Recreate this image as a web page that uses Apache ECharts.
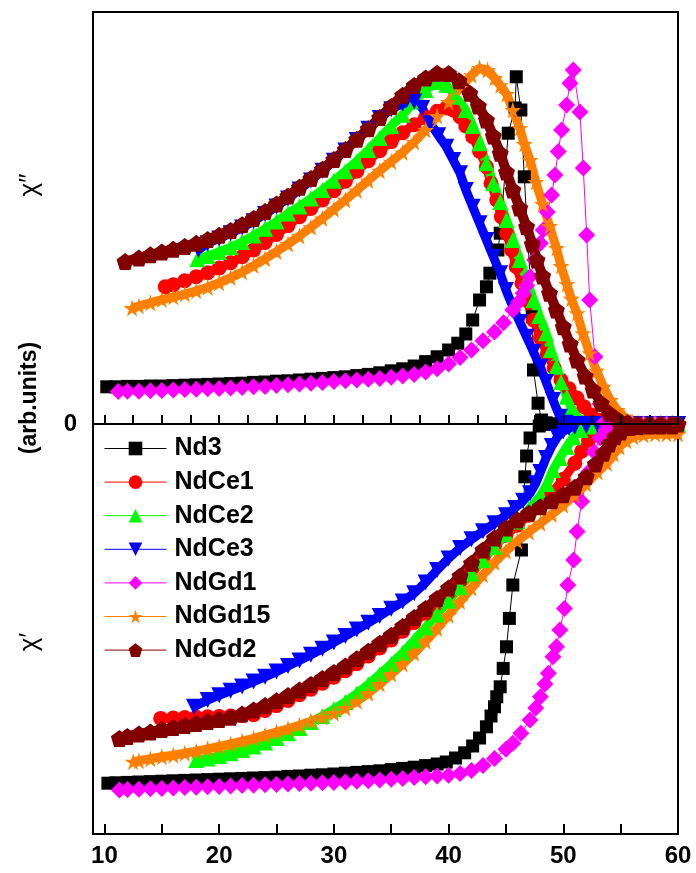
<!DOCTYPE html>
<html>
<head>
<meta charset="utf-8">
<title>chi ac susceptibility</title>
<script src="https://cdn.jsdelivr.net/npm/echarts@6/dist/echarts.min.js"></script>
<style>
    html, body { margin: 0; padding: 0; background: #fff; }
    #chart { width: 696px; height: 873px; }
</style>
</head>
<body>
<div id="chart"></div>
<script>
// temperature axis: frame runs from 9 K, ticks and labels start at 10 K
const tMin = 9
const tMax = 60
const tickStart = 10
const topTickStep = 5
const bottomTickStep = 10
const xLabelValues = [10, 20, 30, 40, 50, 60]
const topTickValues = [10, 12.5, 15, 17.5, 20, 22.5, 25, 27.5, 30, 32.5, 35, 37.5, 40, 42.5, 45, 47.5, 50, 52.5, 55, 57.5]
const bottomTickValues = [10, 15, 20, 25, 30, 35, 40, 45, 50, 55]

// chi'' (upper panel), [T, value]
const nd3Chi2 = [[10.2,9.3],[11,9.3],[12,9.4],[13,9.4],[14,9.5],[15,9.5],[16,9.6],[17,9.7],[18,9.8],[19,9.9],[20,10],[21,10.1],[22,10.2],[23,10.4],[24,10.5],[25,10.7],[26,10.8],[27,11],[28,11.2],[29,11.4],[30,11.6],[31,11.8],[32,12.1],[33,12.4],[34,12.8],[35,13.3],[36,13.8],[37,14.5],[38,15.6],[39,16.8],[40,18.5],[40.8,20.2],[41.5,22.5],[42.1,26],[42.7,31],[43.3,34.3],[43.6,37.7],[44.3,43.5],[44.5,47.7],[45.2,72.7],[45.8,79],[45.9,86.8],[46.3,78.5],[46.6,61.8],[47.3,26.8],[47.4,13.5],[47.8,5.2],[48.1,1],[48.5,0.3],[49.5,0],[50.5,0],[51.5,0],[52.5,0],[53.5,0],[54.5,0],[55.5,0],[56.5,0],[57.5,0],[58.5,0],[59.5,0]]
const ndCe1Chi2 = [[15.3,34.3],[16,34.8],[17,35.8],[18,36.8],[19,37.8],[20,39],[21,40.3],[22,41.8],[23,43.5],[24,45.4],[25,47.4],[26,49.6],[27,51.8],[28,53.9],[29,56],[30,58.3],[31,60.7],[32,63.2],[33,65.8],[34,68.3],[35,70.6],[36,72.8],[37,74.8],[38,76.6],[39,78.2],[39.8,79],[40.4,78.5],[41,76.8],[41.5,74.5],[42.1,71.8],[42.7,68.2],[43.3,64.3],[43.7,60.2],[44.2,56],[44.6,51.8],[45.05,47.7],[45.5,43.5],[45.9,39.3],[46.4,35.2],[46.8,31],[47.4,26],[48,21.5],[48.6,17.5],[49.2,14],[49.8,11],[50.5,8.8],[51.2,6.5],[51.8,4.3],[52.4,2.3],[53,1],[53.6,0.3],[54.5,0],[55.5,0],[56.5,0],[57.5,0],[58.5,0],[59.5,0]]
const ndCe2Chi2 = [[18.1,41.2],[19,42],[20,43],[21,44.2],[22,45.5],[23,47.1],[24,48.8],[25,50.6],[26,52.6],[27,54.4],[28,56.4],[29,58.5],[30,60.8],[31,63.2],[32,65.7],[33,68.5],[34,71.5],[35,74.5],[36,77.3],[37,80.6],[38,83.5],[39,85.5],[39.8,84.8],[40.6,81.8],[41.5,78.5],[42.1,74.5],[42.7,70.2],[43.3,65.2],[43.9,60.2],[44.5,55.5],[45.05,51],[45.6,46],[46.2,41],[46.8,36],[47.4,31],[47.9,27],[48.5,22.7],[48.9,18.5],[49.4,14.3],[49.8,10.5],[50.3,6.8],[50.7,4],[51.2,1.8],[51.7,0.5],[52.5,0],[53.5,0],[54.5,0],[55.5,0],[56.5,0],[57.5,0],[58.5,0],[59.5,0]]
const ndCe3Chi2 = [[18.2,43.5],[19,45.2],[20,46.4],[21,47.7],[22,49.1],[23,50.7],[24,52.5],[25,54.4],[26,56.4],[27,58.6],[28,60.9],[29,63.3],[30,65.8],[31,68.4],[32,71],[33,73.8],[34,76.5],[35,78.7],[36,80.1],[37,80.6],[37.7,79],[38.4,75.2],[39.1,72.2],[39.8,69.3],[40.4,66],[41,62.7],[41.5,58.5],[42.1,54.3],[42.7,50.2],[43.3,46],[43.9,41.8],[44.5,37.7],[45,33.5],[45.6,29.3],[46.2,25.5],[46.8,21.8],[47.4,18],[48,14.3],[48.5,10.5],[49.1,6],[49.7,1.8],[50.2,0.3],[51,0],[52,0],[53,0],[54,0],[55,0],[56,0],[57,0],[58,0],[59,0],[60,0]]
const ndGd1Chi2 = [[11.2,8.1],[12,8.2],[13,8.2],[14,8.3],[15,8.4],[16,8.5],[17,8.6],[18,8.7],[19,8.8],[20,8.9],[21,9],[22,9.1],[23,9.3],[24,9.4],[25,9.6],[26,9.8],[27,10],[28,10.2],[29,10.4],[30,10.6],[31,10.8],[32,11],[33,11.2],[34,11.4],[35,11.7],[36,12],[37,12.4],[38,13],[39,13.8],[40,15],[41,16.6],[42,18.5],[43,20.8],[44,23],[44.8,25.3],[45.6,28.5],[46.1,30.5],[46.5,32.7],[46.8,34.6],[47.1,36.8],[47.5,41],[48,45.2],[48.25,48.5],[48.6,53],[48.98,57.25],[49.27,62.25],[49.56,68.1],[49.85,73.5],[50.29,79.75],[50.58,85.2],[50.87,88.5],[51.45,78],[51.74,64],[52.04,47.25],[52.3,31],[52.76,16.8],[53.2,5],[53.6,0.5],[54,0],[55,0],[56,0],[57,0],[58,0],[59,0],[60,0]]
const ndGd15Chi2 = [[12.4,29],[13,29.5],[14,30.3],[15,31.1],[16,31.8],[17,32.5],[18,33.3],[19,34.2],[20,35.3],[21,36.6],[22,38],[23,39.6],[24,41.3],[25,43.1],[26,45],[27,47],[28,49.2],[29,51.4],[30,53.7],[31,56],[32,58.4],[33,60.9],[34,63.3],[35,65.6],[36,67.9],[37,70.5],[38,73.5],[39,77],[40,80.5],[41,84],[42,87.2],[42.7,89],[43.4,88.5],[44,86.5],[44.5,84.7],[45.05,82.5],[45.6,78.5],[46.2,74],[46.6,70],[47.1,66],[47.6,60.5],[48.2,55],[48.8,49.5],[49.4,44],[49.8,39.5],[50.3,35],[50.7,31.3],[51.2,27.7],[51.7,22.7],[52.3,17.7],[52.9,13.3],[53.5,9.3],[54.1,6],[54.7,3.5],[55.3,1.8],[56,0.6],[57,0],[58,0],[59,0],[60,0]]
const ndGd2Chi2 = [[11.8,40.6],[13,41.5],[14,42.3],[15,43],[16,43.7],[17,44.4],[18,45.2],[19,46.1],[20,47.2],[21,48.4],[22,49.8],[23,51.4],[24,53.1],[25,55],[26,57],[27,59.2],[28,61.4],[29,63.7],[30,66.1],[31,68.6],[32,71.2],[33,73.8],[34,76.6],[35,79.4],[36,82.2],[37,84.6],[38,86.5],[39,87.7],[40,87.6],[40.9,85.8],[41.85,82.7],[42.6,79.5],[43.3,76],[43.9,72],[44.5,67.7],[45.05,63],[45.6,58.5],[46.2,54],[46.8,49.3],[47.3,45],[47.7,41],[48.2,37],[48.8,32.7],[49.4,28.5],[50,24.3],[50.6,20],[51.2,16],[51.9,12],[52.6,8.5],[53.3,5.2],[54,2.7],[54.8,1],[55.6,0.3],[56.5,0],[57.5,0],[58.5,0],[59.5,0],[60,0]]

// chi' (lower panel), [T, value]
const nd3Chi1 = [[10.3,-89.8],[11,-89.7],[12,-89.6],[13,-89.5],[14,-89.4],[15,-89.3],[16,-89.2],[17,-89.1],[18,-89],[19,-88.9],[20,-88.8],[21,-88.7],[22,-88.6],[23,-88.5],[24,-88.4],[25,-88.3],[26,-88.1],[27,-88],[28,-87.8],[29,-87.7],[30,-87.5],[31,-87.3],[32,-87.1],[33,-86.9],[34,-86.7],[35,-86.4],[36,-86.1],[37,-85.8],[38,-85.4],[39,-85],[39.8,-84.5],[40.6,-83.5],[41.4,-82.2],[42.1,-80.5],[42.7,-78.5],[43.3,-75.7],[43.7,-73],[44,-70.7],[44.2,-68.2],[44.5,-65.7],[44.76,-61.1],[45.05,-55.7],[45.3,-48.6],[45.6,-40.25],[46.35,-31.5],[46.65,-13.2],[46.8,-8],[47.1,-3.5],[47.9,-0.5],[48.5,-0.1],[49.5,0],[50.5,0],[51.5,0],[52.5,0],[53.5,0],[54.5,0],[55.5,0],[56.5,0],[57.5,0],[58.5,0],[59.5,0]]
const ndCe1Chi1 = [[14.9,-73.6],[16,-73.5],[17,-73.4],[18,-73.3],[19,-73.2],[20,-73.1],[21,-73],[22,-72.9],[23,-72.7],[24,-71.6],[25,-70.4],[26,-69.1],[27,-67.7],[28,-66.3],[29,-64.8],[30,-63.3],[31,-61.7],[32,-59.9],[33,-58],[34,-56],[35,-54],[36,-51.8],[37,-49.6],[38,-47.3],[39,-44.8],[40,-42.2],[41,-39.3],[42,-36.3],[43,-33.3],[44,-30.5],[45,-27.8],[46,-25.3],[47,-22.8],[48,-20.2],[49,-17.2],[50,-13.8],[51,-9.8],[51.6,-6.8],[52.2,-4],[52.8,-2],[53.5,-0.8],[54.5,-0.3],[55.5,0],[56.5,0],[57.5,0],[58.5,0],[59.5,0]]
const ndCe2Chi1 = [[18,-84],[19,-83.6],[20,-83],[21,-82.3],[22,-81.5],[23,-80.6],[24,-79.6],[25,-78.5],[26,-77.3],[27,-76],[28,-74.5],[29,-73],[30,-71.3],[31,-69.5],[32,-67.4],[33,-65.1],[34,-62.6],[35,-60],[36,-57.2],[37,-54.1],[38,-50.9],[39,-47.6],[40,-44.2],[41,-40.8],[42,-37.4],[43,-34],[44,-30.7],[45,-27.5],[46,-24.4],[47,-21.3],[48,-18],[48.6,-15],[49.1,-11.5],[49.7,-8.5],[50.3,-5.7],[50.9,-3.3],[51.5,-1.5],[52.2,-0.6],[53,-0.2],[54,0],[55,0],[56,0],[57,0],[58,0],[59,0],[60,0]]
const ndCe3Chi1 = [[17.8,-70.7],[19,-69],[20,-67.8],[21,-66.7],[22,-65.6],[23,-64.4],[24,-63.2],[25,-61.9],[26,-60.5],[27,-59.1],[28,-57.7],[29,-56.2],[30,-54.6],[31,-53],[32,-51.4],[33,-49.7],[34,-48],[35,-46.2],[36,-44.4],[37,-42.3],[38,-39.6],[39,-36.5],[40,-33.6],[41,-31],[42,-28.8],[43,-26.8],[44,-24.8],[45,-22.8],[45.8,-21],[46.5,-19.2],[47.1,-17.3],[47.6,-14.8],[48,-12],[48.5,-8.5],[49,-5.5],[49.5,-3.2],[50,-1.8],[50.5,-1],[51,-0.7],[52,-0.5],[53,-0.3],[54,-0.2],[55,0],[56,0],[57,0],[58,0],[59,0],[60,0]]
const ndGd1Chi1 = [[11.3,-91.5],[12,-91.4],[13,-91.3],[14,-91.2],[15,-91.1],[16,-91],[17,-90.9],[18,-90.8],[19,-90.7],[20,-90.6],[21,-90.5],[22,-90.4],[23,-90.3],[24,-90.2],[25,-90.1],[26,-90],[27,-89.9],[28,-89.8],[29,-89.7],[30,-89.6],[31,-89.5],[32,-89.3],[33,-89.2],[34,-89],[35,-88.8],[36,-88.6],[37,-88.4],[38,-88.2],[39,-88],[40,-87.8],[41,-87.4],[42,-86.6],[43,-85.4],[44,-83.6],[45,-81.3],[45.6,-79.8],[46.3,-77.3],[47.1,-74],[47.6,-71],[48,-68.2],[48.4,-65],[48.7,-62.3],[49.1,-58.2],[49.4,-55.7],[49.7,-51.5],[50.1,-46.1],[50.4,-40.25],[50.9,-34],[51.2,-26.9],[51.6,-19.4],[52.2,-12],[52.7,-7],[53.2,-3.5],[53.7,-1.5],[54.5,-0.5],[55.5,0],[56.5,0],[57.5,0],[58.5,0],[59.5,0]]
const ndGd15Chi1 = [[12.5,-84.4],[13,-84.2],[14,-83.7],[15,-83.2],[16,-82.8],[17,-82.3],[18,-81.8],[19,-81.2],[20,-80.6],[21,-80],[22,-79.3],[23,-78.6],[24,-77.8],[25,-77],[26,-76.2],[27,-75.3],[28,-74.3],[29,-73.3],[30,-72.3],[31,-71],[32,-69.3],[33,-67.3],[34,-65],[35,-62.5],[36,-60],[37,-57.3],[38,-54.3],[39,-51.1],[40,-47.8],[41,-44.4],[42,-41],[43,-37.7],[44,-34.6],[45,-31.8],[46,-29.3],[47,-27],[48,-24.8],[49,-22.6],[50,-20.3],[51,-17.8],[52,-15],[53,-12],[53.8,-9.8],[54.4,-7.5],[54.9,-5.7],[55.5,-4.2],[56.1,-3.2],[57,-2.7],[58,-2.5],[59,-2.5],[60,-2.5]]
const ndGd2Chi1 = [[11.3,-78.6],[12,-78.1],[13,-77.5],[14,-77],[15,-76.4],[16,-75.9],[17,-75.4],[18,-74.9],[19,-74.4],[20,-73.9],[21,-73.3],[22,-72.5],[23,-71.5],[24,-70.4],[25,-69.2],[26,-67.9],[27,-66.5],[28,-65.1],[29,-63.6],[30,-62.1],[31,-60.5],[32,-58.7],[33,-56.8],[34,-54.8],[35,-52.8],[36,-50.6],[37,-48.4],[38,-46.1],[39,-43.6],[40,-41],[41,-38],[42,-34.8],[43,-31.5],[44,-28.5],[45,-26],[46,-24],[47,-22.3],[48,-20.7],[49,-19.2],[50,-17.7],[51,-15.8],[52,-13.2],[52.8,-10],[53.5,-7.3],[54,-5],[54.5,-3.2],[55,-2],[55.8,-0.9],[56.5,-0.6],[57.5,-0.5],[58.5,-0.5],[59.5,-0.5]]

const starPath = 'path://M50,0 L61,35 L98,35 L68,57 L79,91 L50,70 L21,91 L32,57 L2,35 L39,35 Z'
const pentagonPath = 'path://M50,0 L98,36 L80,95 L20,95 L2,36 Z'

// one entry per sample; style here, values in the arrays above
const samples = [
    {name: 'Nd3', color: '#000000', symbol: 'rect', size: 13, width: 1, upper: nd3Chi2, lower: nd3Chi1},
    {name: 'NdCe1', color: '#ff0000', symbol: 'circle', size: 15, width: 9, upper: ndCe1Chi2, lower: ndCe1Chi1},
    {name: 'NdCe2', color: '#00ff00', symbol: 'triangle', size: 16, width: 9, upper: ndCe2Chi2, lower: ndCe2Chi1},
    {name: 'NdCe3', color: '#0000ff', symbol: 'triangle', rotate: 180, size: 16, width: 9, upper: ndCe3Chi2, lower: ndCe3Chi1},
    {name: 'NdGd1', color: '#ff00ff', symbol: 'diamond', size: 17, width: 1, upper: ndGd1Chi2, lower: ndGd1Chi1},
    {name: 'NdGd15', color: '#ff8000', symbol: starPath, size: 17, width: 9, upper: ndGd15Chi2, lower: ndGd15Chi1},
    {name: 'NdGd2', color: '#800000', symbol: pentagonPath, size: 17, width: 10, upper: ndGd2Chi2, lower: ndGd2Chi1}
]

const fontName = 'Liberation Sans, Arial, sans-serif'
const frameLeft = 93
const frameRight = 18
const midLine = 424
const bottomLine = 834
// where 10 K sits, so the tick-only grids line up with the data grids
const tickLeft = frameLeft + (696 - frameLeft - frameRight) * (tickStart - tMin) / (tMax - tMin)

function makeSeries(s, data, xIdx, yIdx) {
    return {
        name: s.name,
        type: 'line',
        xAxisIndex: xIdx,
        yAxisIndex: yIdx,
        data: data,
        symbol: s.symbol,
        symbolSize: s.size,
        symbolRotate: s.rotate || 0,
        showAllSymbol: true,
        clip: false,
        itemStyle: {color: s.color},
        lineStyle: {color: s.color, width: s.width},
        emphasis: {disabled: true}
    }
}

const series = []
samples.forEach(s => {
    series.push(makeSeries(s, s.upper, 0, 0))
    series.push(makeSeries(s, s.lower, 1, 1))
})

const tickLine = {color: '#000', width: 2}

// data axis: frame line, ticks on the listed values, labels on the bottom one
function dataAxis(grid, ticks, len, labels) {
    return {
        type: 'value', gridIndex: grid, min: tMin, max: tMax, position: 'bottom', z: 10,
        axisLine: {show: true, onZero: false, lineStyle: tickLine},
        axisTick: {show: true, inside: true, length: len, customValues: ticks, lineStyle: tickLine},
        axisLabel: labels ? {
            show: true, customValues: labels, margin: 10,
            color: '#000', fontSize: 24, fontWeight: 'bold', fontFamily: fontName
        } : {show: false},
        splitLine: {show: false}
    }
}

// tick axis on the top edge of the grid below the line, ticks pointing up
function tickAxis(grid, step, len) {
    return {
        type: 'value', gridIndex: grid, min: tickStart, max: tMax, interval: step, position: 'top', z: 10,
        axisLine: {show: true, onZero: false, lineStyle: tickLine},
        axisTick: {show: true, inside: false, length: len, lineStyle: tickLine},
        minorTick: {show: true, splitNumber: 2, length: Math.round(len * 0.55), lineStyle: tickLine},
        axisLabel: {show: false},
        splitLine: {show: false}
    }
}

function hiddenY(grid) {
    return {type: 'value', gridIndex: grid, show: false, min: 0, max: 1}
}

const chart = echarts.init(document.getElementById('chart'))
const option = {
    animation: false,
    backgroundColor: '#fff',
    grid: [
        {left: frameLeft, right: frameRight, top: 12, height: midLine - 12, show: true, backgroundColor: 'transparent', borderColor: '#000', borderWidth: 2},
        {left: frameLeft, right: frameRight, top: midLine, height: bottomLine - midLine, show: true, backgroundColor: 'transparent', borderColor: '#000', borderWidth: 2},
        {left: tickLeft, right: frameRight, top: midLine, height: 100},
        {left: tickLeft, right: frameRight, top: bottomLine, height: 20}
    ],
    xAxis: [
        dataAxis(0, topTickValues, 9, null),
        dataAxis(1, bottomTickValues, 10, xLabelValues),
        tickAxis(2, topTickStep, 9),
        tickAxis(3, bottomTickStep, 10)
    ],
    yAxis: [
        {
            type: 'value', gridIndex: 0, min: 0, max: 103,
            axisLine: {show: true, lineStyle: tickLine},
            axisTick: {show: false},
            axisLabel: {show: true, customValues: [0], margin: 16, color: '#000', fontSize: 24, fontWeight: 'bold', fontFamily: fontName},
            splitLine: {show: false}
        },
        {
            type: 'value', gridIndex: 1, min: -102.5, max: 0,
            axisLine: {show: true, lineStyle: tickLine},
            axisTick: {show: false},
            axisLabel: {show: false},
            splitLine: {show: false}
        },
        hiddenY(2),
        hiddenY(3)
    ],
    legend: {
        orient: 'vertical',
        left: 104,
        top: 436,
        padding: 0,
        itemWidth: 62,
        itemHeight: 17,
        itemGap: 8.6,
        data: samples.map(s => s.name),
        lineStyle: {width: 1},
        textStyle: {color: '#000', fontSize: 25, fontWeight: 'bold', fontFamily: fontName, padding: [0, 0, 0, 3]}
    },
    graphic: [
        {type: 'text', x: 30, y: 185, rotation: Math.PI / 2,
            style: {text: 'χ″', font: '26px ' + fontName, fill: '#000', textAlign: 'center', textVerticalAlign: 'middle'}},
        {type: 'text', x: 30, y: 398, rotation: Math.PI / 2,
            style: {text: '(arb.units)', font: 'bold 23px ' + fontName, fill: '#000', textAlign: 'center', textVerticalAlign: 'middle'}},
        {type: 'text', x: 30, y: 642, rotation: Math.PI / 2,
            style: {text: 'χ′', font: '26px ' + fontName, fill: '#000', textAlign: 'center', textVerticalAlign: 'middle'}}
    ],
    series: series
}
chart.setOption(option)
</script>
</body>
</html>
